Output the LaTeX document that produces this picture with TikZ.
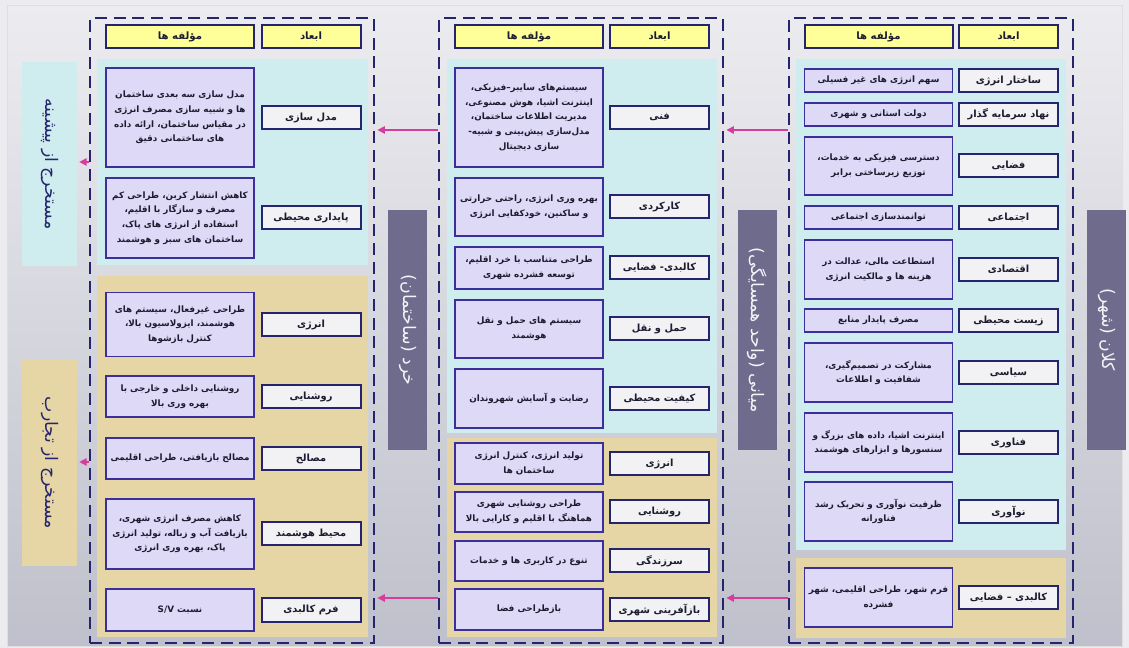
\documentclass[tikz,border=0pt]{standalone}
\usepackage{fontspec}
\newfontfamily\fa[Script=Arabic]{DejaVu Sans}
\TeXXeTstate=1
\usetikzlibrary{arrows.meta}
\newcommand\rl[1]{\beginR#1\endR}
\definecolor{navy}{HTML}{25246E}
\definecolor{hdrfill}{HTML}{FFFF99}
\definecolor{dimfill}{HTML}{F2F2F4}
\definecolor{compfill}{HTML}{DDD9F6}
\definecolor{compline}{HTML}{3B2F9C}
\definecolor{cyanp}{HTML}{CFECEF}
\definecolor{tanp}{HTML}{E6D6A6}
\definecolor{barc}{HTML}{6F6B8D}
\definecolor{arrc}{HTML}{D63C9C}
\definecolor{bgtop}{HTML}{ECECF0}
\definecolor{bgbot}{HTML}{C0C0CC}
\definecolor{txt}{HTML}{1C1C30}
\tikzset{
  hdr/.style={draw=navy, line width=1.5pt, fill=hdrfill, minimum height=23*0.75pt, inner sep=0pt, text=txt, font=\fa\bfseries\fontsize{7.6}{10}\selectfont},
  dimb/.style={draw=navy, line width=1.5pt, fill=dimfill, minimum width=99*0.75pt, minimum height=23*0.75pt, inner sep=0pt, text=txt, font=\fa\bfseries\fontsize{7.4}{10}\selectfont},
  comp/.style={draw=compline, line width=1.2pt, fill=compfill, minimum width=148*0.75pt, inner sep=0pt, align=center, text=txt, font=\fa\bfseries\fontsize{6.6}{11}\selectfont},
  frm/.style={draw=navy, line width=2.2pt, dash pattern=on 9pt off 5pt},
  panel/.style={draw=none, inner sep=0pt},
  barbox/.style={fill=barc, draw=none, inner sep=0pt, minimum width=39*0.75pt, minimum height=240*0.75pt},
  bartext/.style={rotate=-90, text=white!92!barc, font=\fa\fontsize{13}{15}\selectfont},
  lbox/.style={draw=none, inner sep=0pt, minimum width=55*0.75pt},
  ltext/.style={rotate=-90, text=navy, font=\fa\fontsize{13}{15}\selectfont},
  arr/.style={draw=arrc, line width=1.1pt, -{Triangle[length=5.5pt,width=5.5pt]}, shorten >=1.5pt}
}
\newcommand\prow[7]{%
  \node[comp, minimum height=#5*0.75pt] (#1c) at (#2,#4) {#6};
  \node[dimb] (#1d) at (#3,#4) {#7};}
\newcommand\phdr[3]{%
  \node[hdr, minimum width=148*0.75pt] (#1c) at (#2,37) {\rl{مؤلفه ها}};
  \node[hdr, minimum width=99*0.75pt] (#1d) at (#3,37) {\rl{ابعاد}};}
\begin{document}
\begin{tikzpicture}[x=0.75pt,y=-0.75pt]
\useasboundingbox (0,0) rectangle (1129,648);
\fill[bgtop] (0,0) rectangle (1129,648);
\shade[top color=bgtop, bottom color=bgbot, draw=white!75!gray, line width=0.6pt] (7,5) rectangle (1122,646);

% panels
\fill[cyanp] (97,59) rectangle (368,265);
\fill[tanp] (97,276) rectangle (368,637);
\fill[cyanp] (447,59) rectangle (717,433);
\fill[tanp] (447,438) rectangle (717,637);
\fill[cyanp] (796,59) rectangle (1066,550);
\fill[tanp] (796,558) rectangle (1066,638);

% frames
\node[frm, minimum width=284*0.75pt, minimum height=625*0.75pt] (fL) at (232,330.5) {};
\node[frm, minimum width=284*0.75pt, minimum height=625*0.75pt] (fM) at (581,330.5) {};
\node[frm, minimum width=284*0.75pt, minimum height=625*0.75pt] (fR) at (931,330.5) {};

% headers
\phdr{hL}{180}{311}
\phdr{hM}{529}{659.5}
\phdr{hR}{878.5}{1008.5}

% right column
\prow{r1}{878.5}{1008.5}{80.5}{23}{\rl{سهم انرژی های غیر فسیلی}}{\rl{ساختار انرژی}}
\prow{r2}{878.5}{1008.5}{114.5}{23}{\rl{دولت استانی و شهری}}{\rl{نهاد سرمایه گذار}}
\prow{r3}{878.5}{1008.5}{166}{58}{\rl{دسترسی فیزیکی به خدمات،}\\\rl{توزیع زیرساختی برابر}}{\rl{فضایی}}
\prow{r4}{878.5}{1008.5}{217.5}{23}{\rl{توانمندسازی اجتماعی}}{\rl{اجتماعی}}
\prow{r5}{878.5}{1008.5}{269.5}{59}{\rl{استطاعت مالی، عدالت در}\\\rl{هزینه ها و مالکیت انرژی}}{\rl{اقتصادی}}
\prow{r6}{878.5}{1008.5}{320.5}{23}{\rl{مصرف پایدار منابع}}{\rl{زیست محیطی}}
\prow{r7}{878.5}{1008.5}{372.5}{59}{\rl{مشارکت در تصمیم‌گیری،}\\\rl{شفافیت و اطلاعات}}{\rl{سیاسی}}
\prow{r8}{878.5}{1008.5}{442.5}{59}{\rl{اینترنت اشیا، داده های بزرگ و}\\\rl{سنسورها و ابزارهای هوشمند}}{\rl{فناوری}}
\prow{r9}{878.5}{1008.5}{511.5}{59}{\rl{ظرفیت نوآوری و تحریک رشد}\\\rl{فناورانه}}{\rl{نوآوری}}
\prow{r10}{878.5}{1008.5}{597.5}{59}{\rl{فرم شهر، طراحی اقلیمی، شهر}\\\rl{فشرده}}{\rl{کالبدی – فضایی}}

% middle column
\prow{m1}{529}{659.5}{117.5}{99}{\rl{سیستم‌های سایبر–فیزیکی،}\\\rl{اینترنت اشیا، هوش مصنوعی،}\\\rl{مدیریت اطلاعات ساختمان،}\\\rl{مدل‌سازی پیش‌بینی و شبیه-}\\\rl{سازی دیجیتال}}{\rl{فنی}}
\prow{m2}{529}{659.5}{207}{58}{\rl{بهره وری انرژی، راحتی حرارتی}\\\rl{و ساکنین، خودکفایی انرژی}}{\rl{کارکردی}}
\prow{m3}{529}{659.5}{268}{42}{\rl{طراحی متناسب با خرد اقلیم،}\\\rl{توسعه فشرده شهری}}{\rl{کالبدی- فضایی}}
\prow{m4}{529}{659.5}{329}{58}{\rl{سیستم های حمل و نقل}\\\rl{هوشمند}}{\rl{حمل و نقل}}
\prow{m5}{529}{659.5}{398.5}{59}{\rl{رضایت و آسایش شهروندان}}{\rl{کیفیت محیطی}}
\prow{m6}{529}{659.5}{463.5}{41}{\rl{تولید انرژی، کنترل انرژی}\\\rl{ساختمان ها}}{\rl{انرژی}}
\prow{m7}{529}{659.5}{512}{40}{\rl{طراحی روشنایی شهری}\\\rl{هماهنگ با اقلیم و کارایی بالا}}{\rl{روشنایی}}
\prow{m8}{529}{659.5}{561}{40}{\rl{تنوع در کاربری ها و خدمات}}{\rl{سرزندگی}}
\prow{m9}{529}{659.5}{609.5}{41}{\rl{بازطراحی فضا}}{\rl{بازآفرینی شهری}}

% left column
\prow{l1}{180}{311}{117.5}{99}{\rl{مدل سازی سه بعدی ساختمان}\\\rl{ها و شبیه سازی مصرف انرژی}\\\rl{در مقیاس ساختمان، ارائه داده}\\\rl{های ساختمانی دقیق}}{\rl{مدل سازی}}
\prow{l2}{180}{311}{218}{80}{\rl{کاهش انتشار کربن، طراحی کم}\\\rl{مصرف و سازگار با اقلیم،}\\\rl{استفاده از انرژی های پاک،}\\\rl{ساختمان های سبز و هوشمند}}{\rl{پایداری محیطی}}
\prow{l3}{180}{311}{324.5}{64}{\rl{طراحی غیرفعال، سیستم های}\\\rl{هوشمند، ایزولاسیون بالا،}\\\rl{کنترل بازشوها}}{\rl{انرژی}}
\prow{l4}{180}{311}{396.5}{41}{\rl{روشنایی داخلی و خارجی با}\\\rl{بهره وری بالا}}{\rl{روشنایی}}
\prow{l5}{180}{311}{458.5}{41}{\rl{مصالح بازیافتی، طراحی اقلیمی}}{\rl{مصالح}}
\prow{l6}{180}{311}{534}{70}{\rl{کاهش مصرف انرژی شهری،}\\\rl{بازیافت آب و زباله، تولید انرژی}\\\rl{پاک، بهره وری انرژی}}{\rl{محیط هوشمند}}
\prow{l7}{180}{311}{610}{42}{\rl{نسبت \beginL S/V\endL}}{\rl{فرم کالبدی}}

% dark bars
\node[barbox] (bL) at (407.5,330) {};
\node[bartext] (bLt) at (bL.center) {\rl{خرد (ساختمان)}};
\node[barbox] (bM) at (757.5,330) {};
\node[bartext] (bMt) at (bM.center) {\rl{میانی (واحد همسایگی)}};
\node[barbox] (bR) at (1106.5,330) {};
\node[bartext] (bRt) at (bR.center) {\rl{کلان (شهر)}};

% left labels
\node[lbox, fill=cyanp, minimum height=204*0.75pt] (lab1) at (49.5,164) {};
\node[ltext] (lab1t) at (lab1.center) {\rl{مستخرج از پیشینه}};
\node[lbox, fill=tanp, minimum height=206*0.75pt] (lab2) at (49.5,463) {};
\node[ltext] (lab2t) at (lab2.center) {\rl{مستخرج از تجارب}};

% arrows
\coordinate (yA) at (0,130);
\coordinate (yB) at (0,598);
\coordinate (yC) at (0,162);
\coordinate (yD) at (0,462);
\draw[arr] (fM.west |- yA) -- (fL.east |- yA);
\draw[arr] (fR.west |- yA) -- (fM.east |- yA);
\draw[arr] (fM.west |- yB) -- (fL.east |- yB);
\draw[arr] (fR.west |- yB) -- (fM.east |- yB);
\draw[arr] (fL.west |- yC) -- (lab1.east |- yC);
\draw[arr] (fL.west |- yD) -- (lab2.east |- yD);
\end{tikzpicture}
\end{document}
